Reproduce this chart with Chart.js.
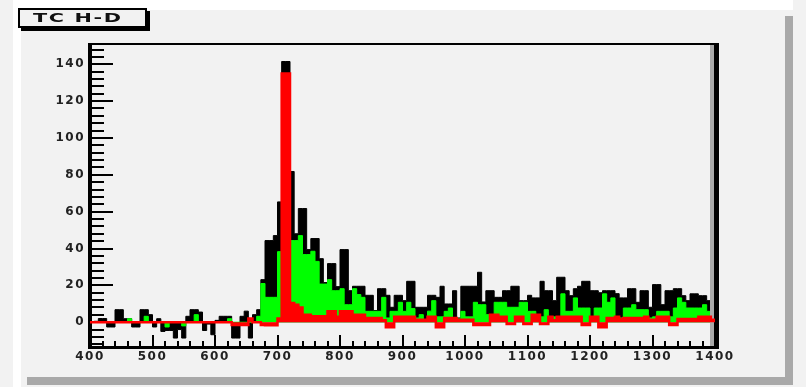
<!DOCTYPE html>
<html><head><meta charset="utf-8">
<script src="https://cdn.jsdelivr.net/npm/chart.js@4"></script>
<style>html,body{margin:0;padding:0;background:#f2f2f2;overflow:hidden}#wrap{width:806px;height:387px}</style>
</head><body><div id="wrap"><canvas id="c" width="806" height="387"></canvas></div>
<script>
const chartTitle = 'TC H-D';
const xMin = 400, xMax = 1400, binCount = 150;
const xTicks = [400, 500, 600, 700, 800, 900, 1000, 1100, 1200, 1300, 1400];
const yTicks = [0, 20, 40, 60, 80, 100, 120, 140];

const totalCounts = [
 0,0.5,2,2,-2.6,-2.6,6.8,6.8,1.9,1.9,
 -2.6,-2.6,6.8,6.8,4.1,-2.6,1.9,-5,-4.5,-4.5,
 -8.6,-4,-8.6,3.2,6.8,6.8,5.5,-4.5,-1,-6.8,
 1,3.2,3.2,3.2,-8.6,-8.6,3.2,6,-8.6,4.1,
 6.8,23.1,44.3,44.3,47,65.3,141.5,141.5,81.8,48,
 61.7,61.7,39.4,45.4,45.4,34.5,21.5,31.8,31.8,19.3,
 39.4,39.4,17.1,19.5,19.5,19.5,14.6,14.6,6.3,18.2,
 18.2,14.6,8.1,14.6,14.6,11.7,22.2,22.2,8.1,8.1,
 8.1,14.6,14.6,13.5,19.5,9.9,9.9,17.1,2.3,19.5,
 19.5,19.5,19.5,27.1,11,17.1,17.1,13.5,13.5,17.1,
 17.1,19.5,19.5,11.7,11.7,14.6,13.2,13.2,22.2,17.1,
 17.1,11.7,24.4,24.4,17.1,14.4,18.2,19.5,22.2,22.2,
 17.1,17.1,16,17.1,17.1,17.1,15.5,13.2,13.2,18.2,
 18.2,10.8,17.1,17.1,8.1,20.4,20.4,9.5,17.1,17.1,
 18.2,18.2,14.4,11.7,15.4,15.4,14.4,14.4,11.7,11.7
];
const greenCounts = [
 0,0,0,0,0,0,0,0,0,1.9,
 0,0,0,3.2,0,0,0,0,-2.6,0,
 0,0,-2,0,0,4.1,0,0,0,0,
 0,0,0,1.9,0,0,0,0,0,0,
 3.2,21,13.5,13.5,13.5,38.3,30,30,44.3,44.3,
 47,36.7,36.7,38.5,33,20.7,20.7,23.1,17.1,17.1,
 18.2,9.5,9.5,18.2,15,13.5,5.9,5.9,5.9,5.9,
 13.5,2.3,5.9,5.9,10.8,5.9,10.8,7.4,2.3,4.1,
 1.4,6,11.7,2.9,2.9,5.9,7.7,1,1.8,5.9,
 2.9,2.9,10.8,9.5,9.5,4.1,2.9,10.8,10.8,10.8,
 8.1,8.1,8.1,10.8,10.8,5.9,5.9,3.2,2.9,6.8,
 2.9,2.9,2.9,15.4,5.9,5.9,13.2,7.7,7.7,7.7,
 2.9,7.7,7.7,15.4,10.8,13.2,2.9,2.3,7.7,7.7,
 9.5,6.8,6.8,6.8,2.3,2.9,5.9,5.9,5.9,2.9,
 7.7,13.2,10.8,7.7,7.7,7.7,7.7,9.5,5.9,4
];
const redCounts = [
 0,0,0,0,0,0,0,0,0,0,
 0,0,0,0,0,0,0,0,0,0,
 0,0,0,0,0,0,0,0,0,0,
 0,0,0,0,-1.5,-1.5,-1.5,-1.5,2,0,
 0,-1.5,-1.7,-1.7,-1.7,2,135,135,10.4,9.5,
 8,4,4,3.2,3.2,3.2,3.2,5.9,5.9,2.9,
 5.9,5.9,5.9,4.1,4.1,4.1,2.3,2.3,2.3,2.3,
 1,-2.7,-2.7,2.9,2.9,2.9,2.9,2.9,1.4,1.4,
 1.4,2.9,2.9,-2.7,-2.7,2.3,2.3,2.3,1.4,1.4,
 1.4,1.4,-1.5,-1.5,-1.5,-1.5,4.1,4.1,2.9,2.9,
 -1,-1,2.9,2.9,-1,-1,4.1,4.1,-1,-1,
 2.9,1,2.9,2.9,2.9,2.9,2.9,2.9,-1.5,-1.5,
 2.9,2.9,-2.7,-2.7,2.3,2.3,2.9,1.8,2.3,2.3,
 2.3,2.3,2.3,2.9,1.4,1.4,2.9,2.9,2.9,-1.5,
 -1.5,1.8,1.8,1.8,1.8,1.8,2.9,2.9,2.9,1.4
];

const binW = (xMax - xMin) / binCount;
function histPoints(vals) {
  const pts = vals.map((v, i) => ({x: xMin + i * binW, y: v}));
  pts.push({x: xMax, y: vals[vals.length - 1]});
  return pts;
}

const LS = '1.5px';
const decor = {
  id: 'decor',
  beforeLayout(chart) { chart.ctx.letterSpacing = LS; },
  beforeDraw(chart) {
    const c = chart.ctx;
    c.save();
    c.letterSpacing = '0px';
    c.fillStyle = '#f2f2f2'; c.fillRect(0, 0, 806, 387);
    c.fillStyle = '#ffffff'; c.fillRect(13, 0, 780, 10); c.fillRect(13, 0, 8, 387);
    c.fillStyle = '#a9a9a9'; c.fillRect(785, 16, 8, 369); c.fillRect(27, 377, 766, 8);
    c.fillStyle = '#f2f2f2'; c.fillRect(21, 10, 764, 367);
    c.restore();
    chart.ctx.letterSpacing = LS;
  },
  beforeDatasetsDraw(chart) {
    const c = chart.ctx, xs = chart.scales.x, ys = chart.scales.y;
    const a = chart.chartArea;
    c.save();
    c.fillStyle = '#000';
    c.fillRect(a.left - 2, a.top - 1, a.right - a.left + 6, 2);
    c.fillRect(a.left - 2, a.top - 1, 4, a.bottom - a.top + 2);
    c.fillRect(a.left - 2, a.bottom - 2, a.right - a.left + 6, 3);
    for (let v = -12; v <= 150; v += 4) {
      const y = ys.getPixelForValue(v);
      if (y < a.top + 2) continue;
      const len = (v % 20 === 0) ? 21 : 12;
      c.fillRect(a.left + 2, Math.round(y) - 1, len, 2);
    }
    for (let v = 400; v <= 1400; v += 20) {
      const x = xs.getPixelForValue(v);
      const len = (v % 100 === 0) ? 11 : 5;
      c.fillRect(Math.round(x) - 1, a.bottom - 2 - len, 2, len);
    }
    c.restore();
  },
  afterDatasetDraw(chart, args) {
    if (args.index !== 1) return;
    const c = chart.ctx, a = chart.chartArea;
    c.save();
    c.fillStyle = '#a9a9a9'; c.fillRect(a.right - 5, a.top + 1, 4, a.bottom - a.top - 3);
    c.fillStyle = '#000'; c.fillRect(a.right - 1, a.top - 1, 5, a.bottom - a.top + 2);
    c.restore();
  },
  afterDraw(chart) {
    const c = chart.ctx;
    c.save();
    c.fillStyle = '#000'; c.fillRect(21, 11, 129, 20);
    c.fillStyle = '#f2f2f2'; c.fillRect(18, 8, 129, 20);
    c.strokeStyle = '#000'; c.lineWidth = 2; c.strokeRect(19, 9, 127, 18);
    c.letterSpacing = '1px';
    c.font = 'bold 13px "DejaVu Sans"';
    c.textBaseline = 'middle';
    c.textAlign = 'left';
    c.translate(33, 18.5);
    c.scale(1.6, 1);
    c.fillStyle = '#111';
    c.fillText(chartTitle, 0, 0);
    c.restore();
  }
};

const tickFont = {family: 'DejaVu Sans', size: 12, weight: 'bold'};

new Chart(document.getElementById('c'), {
  type: 'line',
  data: {
    datasets: [
      {label: 'total', data: histPoints(totalCounts), stepped: 'before', fill: 'origin',
       backgroundColor: '#000000', borderColor: '#000000', borderWidth: 1, pointRadius: 0, order: 3},
      {label: 'green', data: histPoints(greenCounts), stepped: 'before', fill: 'origin',
       backgroundColor: '#00ff00', borderColor: '#00ff00', borderWidth: 1, pointRadius: 0, order: 2},
      {label: 'red', data: histPoints(redCounts), stepped: 'before', fill: 'origin',
       backgroundColor: '#ff0000', borderColor: '#ff0000', borderWidth: 2.5, pointRadius: 0, order: 1, clip: false}
    ]
  },
  options: {
    responsive: false, animation: false, devicePixelRatio: 1,
    layout: {padding: {left: 0, right: 91, top: 44, bottom: 0}},
    plugins: {legend: {display: false}, tooltip: {enabled: false}, title: {display: false}},
    scales: {
      x: {
        type: 'linear', min: xMin, max: xMax,
        afterBuildTicks: s => { s.ticks = xTicks.map(v => ({value: v})); },
        afterFit: s => { s.height = 39; },
        grid: {display: false, drawTicks: false}, border: {display: false},
        ticks: {font: tickFont, color: '#222', padding: 2, maxRotation: 0, autoSkip: false,
                callback: v => String(v)}
      },
      y: {
        type: 'linear', min: -14, max: 151,
        afterBuildTicks: s => { s.ticks = yTicks.map(v => ({value: v})); },
        afterFit: s => { s.width = 90; },
        grid: {display: false, drawTicks: false}, border: {display: false},
        ticks: {font: tickFont, color: '#222', padding: 5, callback: v => String(v)}
      }
    }
  },
  plugins: [decor]
});
</script>
</body></html>
